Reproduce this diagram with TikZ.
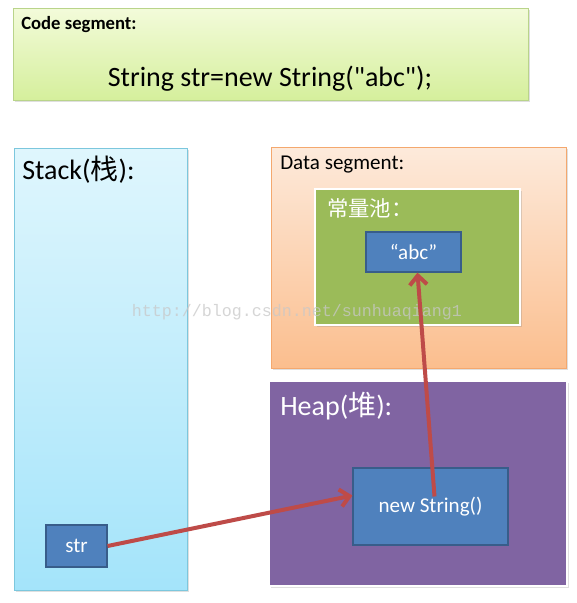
\documentclass[tikz,border=0pt]{standalone}
\usepackage{fontspec}
\setmainfont{Carlito}
\newfontfamily\cjk{Noto Sans CJK SC}
\newfontfamily\wmfont{Liberation Mono}
\usetikzlibrary{arrows.meta,calc,shadows}
\definecolor{boxblue}{HTML}{4F81BD}
\definecolor{boxedge}{HTML}{385D8A}
\definecolor{arrowred}{HTML}{BE4B48}
\definecolor{poolgreen}{HTML}{9BBB59}
\definecolor{heappurple}{HTML}{8064A2}
\definecolor{codeedge}{HTML}{B9D48A}
\definecolor{codetop}{HTML}{F3FBDA}
\definecolor{codebot}{HTML}{D5EF9C}
\definecolor{stackedge}{HTML}{7CC7DD}
\definecolor{stacktop}{HTML}{DFF6FD}
\definecolor{stackbot}{HTML}{A4E4FA}
\definecolor{dataedge}{HTML}{F4A86E}
\definecolor{datatop}{HTML}{FDEADB}
\definecolor{databot}{HTML}{FBBE8E}
\definecolor{markgray}{HTML}{C8C8C8}

\begin{document}
\begin{tikzpicture}[x=0.75pt,y=-0.75pt,
  seg/.style={line width=0.6pt,drop shadow={opacity=0.25,shadow xshift=1.2pt,shadow yshift=-1.2pt}},
  lbl/.style={anchor=west,inner sep=0pt},
  item/.style={draw=boxedge,fill=boxblue,text=white,line width=0.9pt,inner sep=0pt,font=\fontsize{15.8}{18}\selectfont},
  ptr/.style={draw=arrowred,line width=3pt,-{Straight Barb[length=7pt,width=13pt]}}]
\useasboundingbox[fill=white] (0,0) rectangle (576,603);

% code segment
\draw[seg,draw=codeedge,top color=codetop,bottom color=codebot] (13,8) rectangle (528,100);
\node[lbl,font=\bfseries\fontsize{14}{16}\selectfont] (codelbl) at (21,25) {Code segment:};
\node[font=\fontsize{21}{24}\selectfont] (code) at (270,79) {String str=new String(\textquotedbl abc\textquotedbl);};

% stack
\draw[seg,draw=stackedge,top color=stacktop,bottom color=stackbot] (14,148) rectangle (187,590);
\node[lbl,font=\fontsize{21}{24}\selectfont] (stacklbl) at (22,170) {Stack({\cjk 栈}):};
\node[item,minimum width=45.75pt,minimum height=31.5pt] (str) at (76.5,546) {str};

% data segment
\draw[seg,draw=dataedge,top color=datatop,bottom color=databot] (271,147) rectangle (566,368);
\node[lbl,font=\fontsize{15.8}{18}\selectfont] (datalbl) at (280,165) {Data segment:};
\draw[seg,draw=white,line width=2.2pt,fill=poolgreen] (315,189) rectangle (520,325);
\node[lbl,text=white,font=\cjk\fontsize{16}{18}\selectfont] (poollbl) at (327,208) {常量池：};
\node[item,minimum width=71.25pt,minimum height=30pt] (abc) at (413.5,252) {“abc”};

% heap
\draw[seg,draw=white,line width=2.2pt,fill=heappurple] (269,381) rectangle (567,586);
\node[lbl,text=white,font=\fontsize{21}{24}\selectfont] (heaplbl) at (280,406) {Heap({\cjk 堆}):};
\node[item,minimum width=116.25pt,minimum height=57.75pt] (newstr) at (430.5,506.5) {new String()};

\node[text=markgray,opacity=0.75,font=\wmfont\fontsize{12.5}{14}\selectfont] (mark) at (297,312) {http://blog.csdn.net/sunhuaqiang1};

\draw[ptr] (str.east) -- (newstr.172);
\draw[ptr] ($(newstr.center)+(4,-10)$) -- ($(abc.south)+(4,0)$);
\end{tikzpicture}
\end{document}
